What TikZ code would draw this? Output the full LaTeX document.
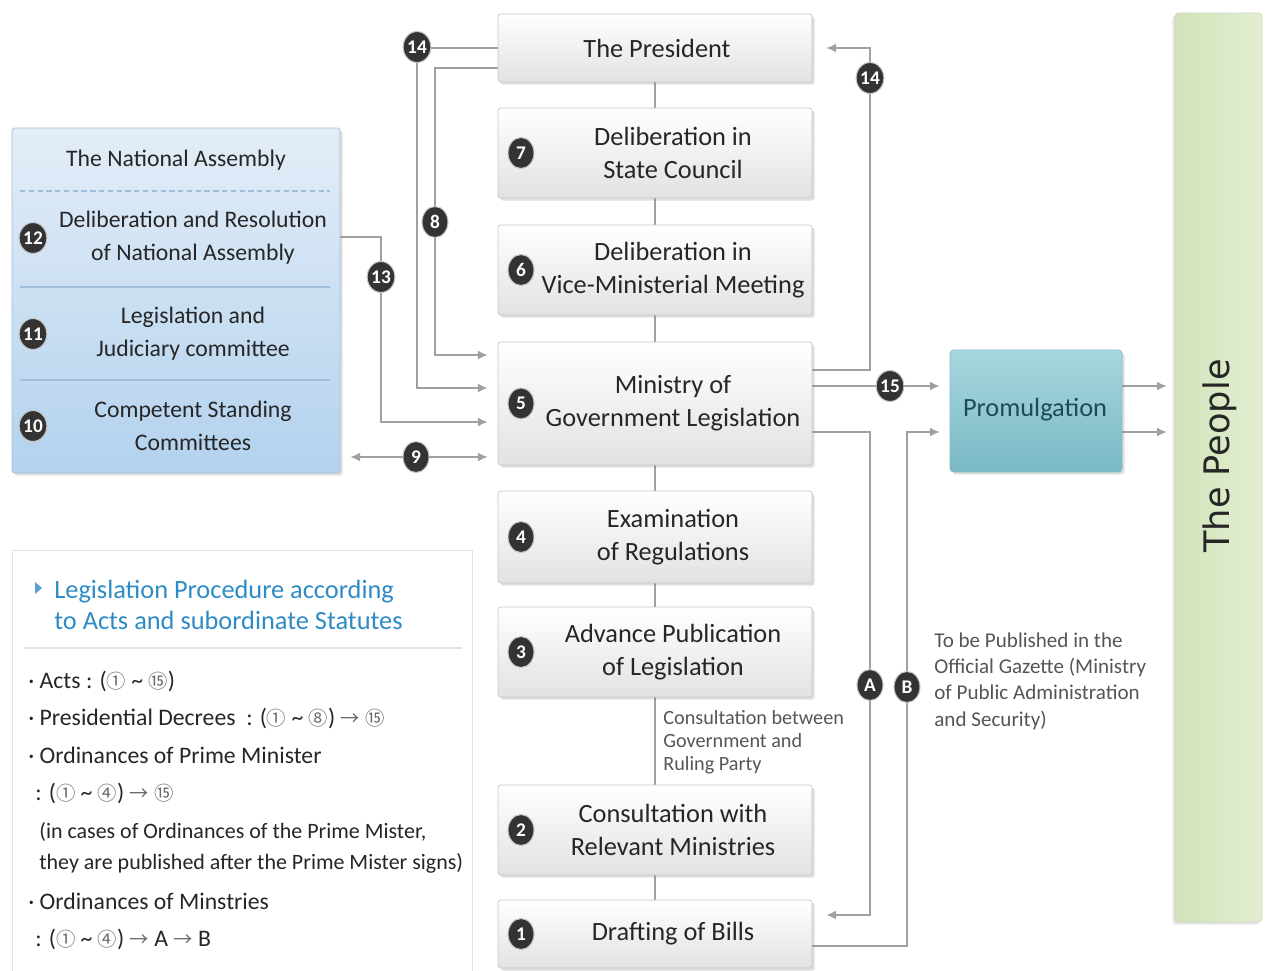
\documentclass[tikz,border=0pt]{standalone}
\usepackage{fontspec}
\setmainfont{Carlito}
\newfontfamily\cjkfont{Noto Sans CJK SC}
\newfontfamily\peoplefont{DejaVu Sans}
\usepackage{xcolor}
\usetikzlibrary{positioning,fit,calc,shadows,shapes.geometric,arrows.meta}
\pgfdeclarelayer{edgelayer}
\pgfsetlayers{edgelayer,main}
\definecolor{boxline}{HTML}{C6C6C6}
\definecolor{boxbot}{HTML}{E2E2E2}
\definecolor{textdark}{HTML}{262626}
\definecolor{badge}{HTML}{333333}
\definecolor{linegray}{HTML}{A0A0A0}
\definecolor{naTop}{HTML}{E3EDF7}
\definecolor{naBot}{HTML}{B3D2EE}
\definecolor{naLine}{HTML}{A0BFDA}
\definecolor{promTop}{HTML}{A8D8E0}
\definecolor{promBot}{HTML}{78B8C4}
\definecolor{promLine}{HTML}{86BAC4}
\definecolor{promText}{HTML}{1E4A55}
\definecolor{peopleA}{HTML}{D2E4B8}
\definecolor{peopleB}{HTML}{E2EED3}
\definecolor{keyLine}{HTML}{E2E2E2}
\definecolor{keyBlue}{HTML}{2E8BC6}
\definecolor{notegray}{HTML}{555555}
\definecolor{numgray}{HTML}{6A6A6A}
\newcommand\boxfont{\fontsize{15}{18.7}\selectfont}
\newcommand\rowfont{\fontsize{13.5}{18.7}\selectfont}
\newcommand\keyfont{\fontsize{13.5}{16}\selectfont}
\newcommand\circnum[1]{{\cjkfont\color{numgray}\fontsize{11}{11}\selectfont #1}}
\newcommand\keyarrow{{\cjkfont\color{numgray}\fontsize{11}{11}\selectfont →}}
\tikzset{link/.style={-{Latex[length=5.5pt,width=5pt]},draw=linegray,line width=0.8pt,shorten >=0.2cm},
  chain/.style={draw=linegray,line width=0.8pt}
}

\begin{document}
\begin{tikzpicture}[x=0.02cm,y=-0.02cm]
  \tikzstyle{Step}=[rectangle,draw=boxline,rounded corners=1.5pt,top color=white,bottom color=boxbot,inner sep=0pt,drop shadow={opacity=0.25,shadow xshift=1.5pt,shadow yshift=-1.5pt}]
  \tikzstyle{StepText}=[align=center,text=textdark,font=\boxfont]
  \tikzstyle{RowText}=[align=center,text=textdark,font=\rowfont]
  \tikzstyle{Badge}=[ellipse,fill=badge,draw=gray!45,line width=0.6pt,text=white,font=\bfseries\fontsize{11}{11}\selectfont,minimum width=0.52cm,minimum height=0.62cm,inner sep=0pt]
  \tikzstyle{Note}=[align=left,text=notegray,inner sep=0pt]
  \tikzstyle{KeyText}=[anchor=west,text=textdark,font=\keyfont,inner sep=0pt]

  \useasboundingbox (0,0) rectangle (1266,970);

  % the legend
  \node[rectangle,draw=keyLine,fill=white,inner sep=0pt,fit={(12,550) (472,990)}] (Key) {};
  \draw[keyLine,line width=0.8pt] (24,648) -- (462,648);
  \fill[keyBlue!80] (35,582) -- (42,588) -- (35,594) -- cycle;
  \node[KeyText,text=keyBlue,align=left,font=\fontsize{15}{17.6}\selectfont] (KeyTitle) at (54,605) {Legislation Procedure according\\to Acts and subordinate Statutes};
  \node[KeyText] (k1) at (28,681) {· Acts : (\circnum{①} \textasciitilde{} \circnum{⑮})};
  \node[KeyText] (k2) at (28,718) {· Presidential Decrees\ \ : (\circnum{①} \textasciitilde{} \circnum{⑧}) \keyarrow{} \circnum{⑮}};
  \node[KeyText] (k3) at (28,755) {· Ordinances of Prime Minister};
  \node[KeyText] (k4) at (35,793) {: (\circnum{①} \textasciitilde{} \circnum{④}) \keyarrow{} \circnum{⑮}};
  \node[KeyText,font=\fontsize{12.5}{15}\selectfont] (k5) at (39,832) {(in cases of Ordinances of the Prime Mister,};
  \node[KeyText,font=\fontsize{12.5}{15}\selectfont] (k6) at (39,863) {they are published after the Prime Mister signs)};
  \node[KeyText] (k7) at (28,901) {· Ordinances of Minstries};
  \node[KeyText] (k8) at (35,939) {: (\circnum{①} \textasciitilde{} \circnum{④}) \keyarrow{} A \keyarrow{} B};

  % the National Assembly
  \node[rectangle,draw=naLine,rounded corners=1.5pt,top color=naTop,bottom color=naBot,inner sep=0pt,
    drop shadow={opacity=0.25,shadow xshift=1.5pt,shadow yshift=-1.5pt},fit={(12,128) (340,473)}] (NA) {};
  \node[RowText] (NAtitle) at (176,160) {The National Assembly};
  \draw[naLine,dash pattern=on 3pt off 2pt,line width=0.7pt] (20,191) -- (330,191);
  \draw[naLine,line width=0.8pt] (20,287) -- (330,287);
  \draw[naLine,line width=0.8pt] (20,380) -- (330,380);
  \foreach \num/\y/\txt in {12/238/{Deliberation and Resolution\\of National Assembly},
      11/334/{Legislation and\\Judiciary committee},
      10/426/{Competent Standing\\Committees}}
  {
    \node[Badge] (b\num) at (33,\y) {\num};
    \node[RowText] (r\num) at (193,\y) {\txt};
  }

  % the government steps
  \node[Step,fit={(498,14) (812,82)}] (Pres) {};
  \node[StepText] (tPres) at (657,48) {The President};
  \foreach \nm/\ya/\yb/\num/\txt in {S7/108/198/7/{Deliberation in\\State Council},
      S6/225/315/6/{Deliberation in\\Vice-Ministerial Meeting},
      S5/342/465/5/{Ministry of\\Government Legislation},
      S4/491/583/4/{Examination\\of Regulations},
      S3/607/697/3/{Advance Publication\\of Legislation},
      S2/785/875/2/{Consultation with\\Relevant Ministries},
      S1/900/968/1/{Drafting of Bills}}
  {
    \node[Step,fit={(498,\ya) (812,\yb)}] (\nm) {};
    \node[Badge] (b\num) at (521,{(\ya+\yb)/2}) {\num};
    \node[StepText] (t\num) at (673,{(\ya+\yb)/2}) {\txt};
  }
  \node[Note,anchor=north west,font=\fontsize{11.5}{13}\selectfont] (consult) at (663,710) {Consultation between\\Government and\\Ruling Party};

  % promulgation and the people
  \node[rectangle,draw=promLine,rounded corners=2pt,top color=promTop,bottom color=promBot,inner sep=0pt,
    drop shadow={opacity=0.25,shadow xshift=1.5pt,shadow yshift=-1.5pt},fit={(950,350) (1122,472)}] (Prom) {};
  \node[text=promText,font=\boxfont] (tProm) at (1035,410) {Promulgation};
  \node[rectangle,draw=peopleA!80!black!60,rounded corners=2pt,left color=peopleA,right color=peopleB,inner sep=0pt,
    drop shadow={opacity=0.2,shadow xshift=-1.5pt,shadow yshift=-1.5pt},fit={(1175,13) (1262,922)}] (People) {};
  \node[rotate=90,text=textdark,font=\peoplefont\fontsize{20}{24}\selectfont] (tPeople) at (1220,456) {The People};
  \node[Note,anchor=north west,font=\fontsize{12}{15}\selectfont] (gazette) at (934,632) {To be Published in the\\Official Gazette (Ministry\\of Public Administration\\and Security)};

  % badges on the connectors
  \node[Badge] (c14l) at (417,47) {14};
  \node[Badge] (c8) at (435,222) {8};
  \node[Badge] (c13) at (381,277) {13};
  \node[Badge] (c9) at (416,457) {9};
  \node[Badge] (c14r) at (870,78) {14};
  \node[Badge] (c15) at (890,386) {15};
  \node[Badge] (cA) at (870,685) {A};
  \node[Badge] (cB) at (907,687) {B};

  \begin{pgfonlayer}{edgelayer}
    \foreach \a/\b in {Pres/S7,S7/S6,S6/S5,S5/S4,S4/S3,S3/S2,S2/S1}
      \draw[chain] (\a.south) -- (\b.north);
    \draw[link] (Pres.west) -| (c14l.center) |- (S5.west |- 0,388);
    \draw[link] (Pres.west |- 0,68) -| (c8.center) |- (S5.west |- 0,355);
    \draw[link] (NA.east |- 0,237) -| (c13.center) |- (S5.west |- 0,422);
    \draw[link,{Latex[length=5.5pt,width=5pt]}-{Latex[length=5.5pt,width=5pt]},shorten <=0.2cm] (NA.east |- 0,457) -- (S5.west |- 0,457);
    \draw[link,shorten >=0.28cm] (S5.east |- 0,370) -| (c14r.center) |- (Pres.east);
    \draw[link] (S5.east |- 0,386) -- (Prom.west |- 0,386);
    \draw[link,shorten >=0.28cm] (S5.east |- 0,432) -| (cA.center) |- (S1.east |- 0,915);
    \draw[link] (S1.east |- 0,946) -| (cB.center) |- (Prom.west |- 0,432);
    \draw[link,shorten >=0.16cm] (Prom.east |- 0,386) -- (People.west |- 0,386);
    \draw[link,shorten >=0.16cm] (Prom.east |- 0,432) -- (People.west |- 0,432);
  \end{pgfonlayer}
\end{tikzpicture}
\end{document}
